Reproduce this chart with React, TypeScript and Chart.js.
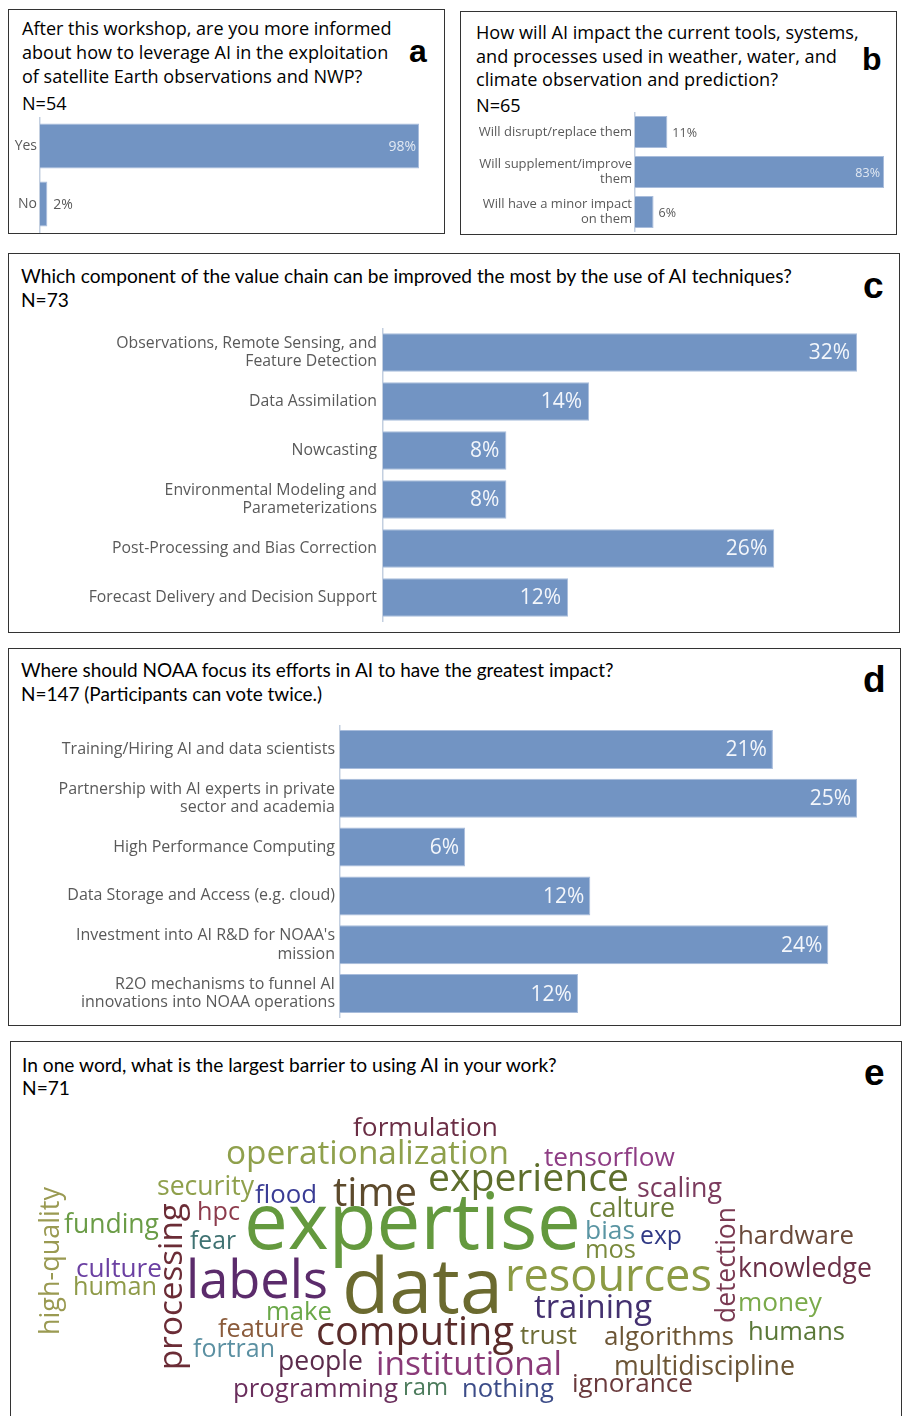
import React, { useEffect, useRef } from "react";
import { Chart, registerables } from "chart.js";
Chart.register(...registerables);

// ---------------- data ----------------
// Panel a
const aCategories: (string | string[])[] = ["Yes", "No"];
const aValues = [98.1, 1.9];
const aValueLabels = ["98%", "2%"];

// Panel b
const bCategories: (string | string[])[] = [
  "Will disrupt/replace them",
  ["Will supplement/improve", "them"],
  ["Will have a minor impact", "on them"],
];
const bValues = [10.8, 83.1, 6.2];
const bValueLabels = ["11%", "83%", "6%"];

// Panel c
const cCategories: (string | string[])[] = [
  ["Observations, Remote Sensing, and", "Feature Detection"],
  "Data Assimilation",
  "Nowcasting",
  ["Environmental Modeling and", "Parameterizations"],
  "Post-Processing and Bias Correction",
  "Forecast Delivery and Decision Support",
];
const cValues = [31.5, 13.7, 8.2, 8.2, 26.0, 12.3];
const cValueLabels = ["32%", "14%", "8%", "8%", "26%", "12%"];

// Panel d
const dCategories: (string | string[])[] = [
  "Training/Hiring AI and data scientists",
  ["Partnership with AI experts in private", "sector and academia"],
  "High Performance Computing",
  "Data Storage and Access (e.g. cloud)",
  ["Investment into AI R&D for NOAA's", "mission"],
  ["R2O mechanisms to funnel AI", "innovations into NOAA operations"],
];
const dValues = [21.1, 25.2, 6.1, 12.2, 23.8, 11.6];
const dValueLabels = ["21%", "25%", "6%", "12%", "24%", "12%"];

// Panel e (word cloud)
const cloudWords = [
  "formulation", "operationalization", "tensorflow", "experience", "security",
  "flood", "time", "scaling", "calture", "expertise",
  "bias", "exp", "mos", "hardware", "detection",
  "knowledge", "money", "humans", "resources", "training",
  "data", "labels", "computing", "trust", "algorithms",
  "institutional", "multidiscipline", "nothing", "ignorance", "programming",
  "ram", "people", "fortran", "feature", "make",
  "culture", "human", "high-quality", "processing", "funding",
  "hpc", "fear",
];
// layout of the cloud (left / baseline in page px, target text length, rotation)
const cloudX = [
  353, 226, 544, 428, 157,
  255, 333, 637, 589, 244,
  585, 640, 585, 738, 735,
  738, 738, 748, 505, 534,
  342, 186, 316, 520, 604,
  376, 614, 462, 572, 233,
  403, 278, 193, 218, 266,
  76, 73, 59, 182, 64,
  197, 190,
];
const cloudY = [
  1136, 1164, 1166, 1191, 1195,
  1203, 1206, 1197, 1217, 1249,
  1239, 1244, 1258, 1244, 1323,
  1277, 1311, 1340, 1291, 1318,
  1313, 1298, 1345, 1344, 1345,
  1375, 1375, 1397, 1392, 1397,
  1395, 1370, 1357, 1337, 1320,
  1277, 1295, 1335, 1370, 1233,
  1220, 1249,
];
const cloudLen = [
  145, 283, 131, 201, 97,
  62, 84, 85, 86, 337,
  50, 42, 51, 116, 116,
  134, 84, 97, 207, 118,
  161, 142, 198, 57, 130,
  186, 181, 92, 121, 165,
  45, 85, 82, 86, 66,
  86, 84, 148, 167, 95,
  43, 46,
];
const cloudRot = [
  0, 0, 0, 0, 0,
  0, 0, 0, 0, 0,
  0, 0, 0, 0, 1,
  0, 0, 0, 0, 0,
  0, 0, 0, 0, 0,
  0, 0, 0, 0, 0,
  0, 0, 0, 0, 0,
  0, 0, 1, 1, 0,
  0, 0,
];
const cloudColor = [
  "#6b2e45", "#8fa04c", "#8e3d84", "#5e6e2c", "#8fa04c",
  "#3a3c95", "#5d4a2c", "#7b3b5e", "#6d803a", "#64993e",
  "#5a95a3", "#313a85", "#7a8a3c", "#6a4a3a", "#7a3a52",
  "#6b3048", "#7aaa4a", "#5a7838", "#8c9b44", "#43306f",
  "#6b6a2f", "#5b2b6b", "#592b2a", "#6e6c36", "#6c5535",
  "#8a3a78", "#6c5535", "#3c4c88", "#6a3a3c", "#6a2e5c",
  "#4c7b5c", "#5b2b4c", "#5b90a2", "#8a5b3b", "#6aa848",
  "#6b40a2", "#8e9a48", "#9a9a52", "#6b2c36", "#6a9c46",
  "#8c3b4c", "#3f7272",
];

// ---------------- helpers ----------------
const BAR = "#7294c3";
const GREY = "#595959";
const FONT_K: Record<string, number> = { "Open Sans": 0.888, Lato: 0.887, "Liberation Sans": 0.8465 };

let measureCtx: CanvasRenderingContext2D | null = null;
function fitSize(text: string, family: string, target: number, weight = "normal") {
  if (!measureCtx) measureCtx = document.createElement("canvas").getContext("2d");
  const c = measureCtx!;
  c.font = `${weight} 100px "${family}"`;
  return (target / c.measureText(text).width) * 100;
}

function TextLines(props: {
  left: number;
  baselines: number[];
  lines: string[];
  family: string;
  target: number;
}) {
  const size = fitSize(props.lines[0], props.family, props.target);
  const k = FONT_K[props.family] ?? 0.88;
  return (
    <>
      {props.lines.map((t, i) => (
        <div
          key={i}
          style={{
            position: "absolute",
            left: props.left,
            top: props.baselines[i] - k * size,
            fontFamily: `"${props.family}"`,
            fontSize: size,
            lineHeight: `${size}px`,
            whiteSpace: "nowrap",
            color: "#000",
          }}
        >
          {t}
        </div>
      ))}
    </>
  );
}

function Letter(props: { left: number; baseline: number; size: number; ch: string }) {
  return (
    <div
      style={{
        position: "absolute",
        left: props.left,
        top: props.baseline - 0.8465 * props.size,
        fontFamily: '"Liberation Sans", Arial, sans-serif',
        fontWeight: "bold",
        fontSize: props.size,
        lineHeight: `${props.size}px`,
        color: "#000",
      }}
    >
      {props.ch}
    </div>
  );
}

function Box(props: { left: number; top: number; width: number; height: number }) {
  return (
    <div
      style={{
        position: "absolute",
        left: props.left,
        top: props.top,
        width: props.width,
        height: props.height,
        border: "1.5px solid #333",
        boxSizing: "border-box",
      }}
    />
  );
}

type BarProps = {
  left: number;
  top: number;
  right: number;
  bottom: number;
  axisX: number;
  labels: (string | string[])[];
  values: number[];
  valueText: string[];
  tickSize: number;
  tickLH: number;
  tickPad: number;
  valueSize: number;
  barPct: number;
  insideColor: string;
  insidePad: number;
  outsidePad: number;
};

function BarChart(p: BarProps) {
  const ref = useRef<HTMLCanvasElement>(null);
  const w = p.right - p.left;
  const h = p.bottom - p.top;
  useEffect(() => {
    const yWidth = p.axisX - p.left;
    const valuePlugin = {
      id: "valueLabels",
      afterDatasetsDraw(chart: any) {
        const ctx = chart.ctx as CanvasRenderingContext2D;
        const meta = chart.getDatasetMeta(0);
        ctx.save();
        ctx.font = `${p.valueSize}px "Open Sans"`;
        ctx.textBaseline = "middle";
        meta.data.forEach((bar: any, i: number) => {
          const text = p.valueText[i];
          const tw = ctx.measureText(text).width;
          const len = bar.x - bar.base;
          if (len > tw + p.insidePad * 2 + 2) {
            ctx.textAlign = "right";
            ctx.fillStyle = p.insideColor;
            ctx.fillText(text, bar.x - p.insidePad, bar.y + 1);
          } else {
            ctx.textAlign = "left";
            ctx.fillStyle = GREY;
            ctx.fillText(text, bar.x + p.outsidePad, bar.y + 1);
          }
        });
        ctx.restore();
      },
    };
    const chart = new Chart(ref.current!, {
      type: "bar",
      data: {
        labels: p.labels as any,
        datasets: [
          {
            data: p.values,
            backgroundColor: BAR,
            borderColor: "#a9bddc",
            borderWidth: 1,
            barPercentage: p.barPct,
            categoryPercentage: 1,
          },
        ],
      },
      options: {
        indexAxis: "y",
        responsive: false,
        animation: false,
        events: [],
        layout: { padding: 0 },
        plugins: { legend: { display: false }, tooltip: { enabled: false } },
        scales: {
          x: { display: false, min: 0, max: Math.max(...p.values) },
          y: {
            grid: { display: false, drawTicks: false, tickLength: 0 },
            border: { display: true, color: "#c3cfe0", width: 1.5 },
            ticks: {
              color: GREY,
              padding: p.tickPad,
              autoSkip: false,
              font: { family: "Open Sans", size: p.tickSize, lineHeight: p.tickLH },
            },
            afterFit: (s: any) => {
              s.width = yWidth;
              s.paddingTop = 0;
              s.paddingBottom = 0;
              s.paddingLeft = 0;
              s.paddingRight = 0;
            },
          },
        },
      } as any,
      plugins: [valuePlugin],
    });
    return () => chart.destroy();
  }, []);
  return (
    <canvas
      ref={ref}
      width={w}
      height={h}
      style={{ position: "absolute", left: p.left, top: p.top, width: w, height: h }}
    />
  );
}

const CLOUD_LEFT = 11;
const CLOUD_TOP = 1043;
const CLOUD_RIGHT = 901;
const CLOUD_BOTTOM = 1416;

function WordCloud() {
  const ref = useRef<HTMLCanvasElement>(null);
  useEffect(() => {
    const wordPlugin = {
      id: "words",
      afterDatasetsDraw(chart: any) {
        const ctx = chart.ctx as CanvasRenderingContext2D;
        const meta = chart.getDatasetMeta(0);
        meta.data.forEach((pt: any, i: number) => {
          const word = cloudWords[i];
          ctx.save();
          ctx.font = `100px "Open Sans"`;
          const w100 = ctx.measureText(word).width;
          const size = (cloudLen[i] / w100) * 100;
          ctx.font = `${size}px "Open Sans"`;
          ctx.fillStyle = cloudColor[i];
          ctx.textAlign = "left";
          ctx.textBaseline = "alphabetic";
          ctx.translate(pt.x, pt.y);
          if (cloudRot[i]) ctx.rotate(-Math.PI / 2);
          ctx.fillText(word, 0, 0);
          ctx.restore();
        });
      },
    };
    const chart = new Chart(ref.current!, {
      type: "scatter",
      data: {
        datasets: [
          {
            data: cloudWords.map((_, i) => ({ x: cloudX[i], y: cloudY[i] })),
            pointRadius: 0,
          },
        ],
      },
      options: {
        responsive: false,
        animation: false,
        events: [],
        layout: { padding: 0 },
        plugins: { legend: { display: false }, tooltip: { enabled: false } },
        scales: {
          x: { type: "linear", display: false, min: CLOUD_LEFT, max: CLOUD_RIGHT },
          y: { type: "linear", display: false, min: CLOUD_TOP, max: CLOUD_BOTTOM, reverse: true },
        },
      } as any,
      plugins: [wordPlugin],
    });
    return () => chart.destroy();
  }, []);
  const w = CLOUD_RIGHT - CLOUD_LEFT;
  const h = CLOUD_BOTTOM - CLOUD_TOP;
  return (
    <canvas
      ref={ref}
      width={w}
      height={h}
      style={{ position: "absolute", left: CLOUD_LEFT, top: CLOUD_TOP, width: w, height: h }}
    />
  );
}

export default function App() {
  useEffect(() => {
    document.documentElement.style.overflow = "hidden";
  }, []);
  return (
    <div
      style={{
        position: "fixed",
        left: 0,
        top: 0,
        width: 904,
        height: 1416,
        overflow: "hidden",
        background: "#fff",
      }}
    >
      {/* Panel a */}
      <Box left={8} top={9} width={437} height={225} />
      <TextLines
        left={22}
        baselines={[35, 59, 83, 110]}
        lines={[
          "After this workshop, are you more informed",
          "about how to leverage AI in the exploitation",
          "of satellite Earth observations and NWP?",
          "N=54",
        ]}
        family="Open Sans"
        target={370}
      />
      <Letter left={409} baseline={62} size={32} ch="a" />
      <BarChart
        left={10}
        top={117}
        right={419}
        bottom={233}
        axisX={40}
        labels={aCategories}
        values={aValues}
        valueText={aValueLabels}
        tickSize={14}
        tickLH={1.2}
        tickPad={3}
        valueSize={14}
        barPct={0.78}
        insideColor="#e2e9f3"
        insidePad={3}
        outsidePad={6}
      />

      {/* Panel b */}
      <Box left={460} top={11} width={437} height={224} />
      <TextLines
        left={476}
        baselines={[39, 63, 86, 112]}
        lines={[
          "How will AI impact the current tools, systems,",
          "and processes used in weather, water, and",
          "climate observation and prediction?",
          "N=65",
        ]}
        family="Open Sans"
        target={383}
      />
      <Letter left={862} baseline={70} size={32} ch="b" />
      <BarChart
        left={462}
        top={112}
        right={884}
        bottom={232}
        axisX={635}
        labels={bCategories}
        values={bValues}
        valueText={bValueLabels}
        tickSize={13}
        tickLH={1.15}
        tickPad={3}
        valueSize={12.5}
        barPct={0.8}
        insideColor="#e2e9f3"
        insidePad={4}
        outsidePad={5}
      />

      {/* Panel c */}
      <Box left={8} top={253} width={892} height={380} />
      <TextLines
        left={21}
        baselines={[283, 307]}
        lines={[
          "Which component of the value chain can be improved the most by the use of AI techniques?",
          "N=73",
        ]}
        family="Lato"
        target={774}
      />
      <Letter left={863} baseline={298} size={37} ch="c" />
      <BarChart
        left={10}
        top={328}
        right={857}
        bottom={622}
        axisX={383}
        labels={cCategories}
        values={cValues}
        valueText={cValueLabels}
        tickSize={15.8}
        tickLH={1.2}
        tickPad={6}
        valueSize={21}
        barPct={0.787}
        insideColor="#f3f6fb"
        insidePad={7}
        outsidePad={6}
      />

      {/* Panel d */}
      <Box left={8} top={648} width={893} height={378} />
      <TextLines
        left={21}
        baselines={[678, 702]}
        lines={[
          "Where should NOAA focus its efforts in AI to have the greatest impact?",
          "N=147 (Participants can vote twice.)",
        ]}
        family="Lato"
        target={594}
      />
      <Letter left={863} baseline={692} size={37} ch="d" />
      <BarChart
        left={10}
        top={725}
        right={857}
        bottom={1018}
        axisX={340}
        labels={dCategories}
        values={dValues}
        valueText={dValueLabels}
        tickSize={16}
        tickLH={1.16}
        tickPad={5}
        valueSize={21}
        barPct={0.8}
        insideColor="#f3f6fb"
        insidePad={6}
        outsidePad={6}
      />

      {/* Panel e */}
      <Box left={10} top={1041} width={892} height={400} />
      <TextLines
        left={22}
        baselines={[1072, 1095]}
        lines={["In one word, what is the largest barrier to using AI in your work?", "N=71"]}
        family="Lato"
        target={538}
      />
      <Letter left={864} baseline={1085} size={37} ch="e" />
      <WordCloud />
    </div>
  );
}
